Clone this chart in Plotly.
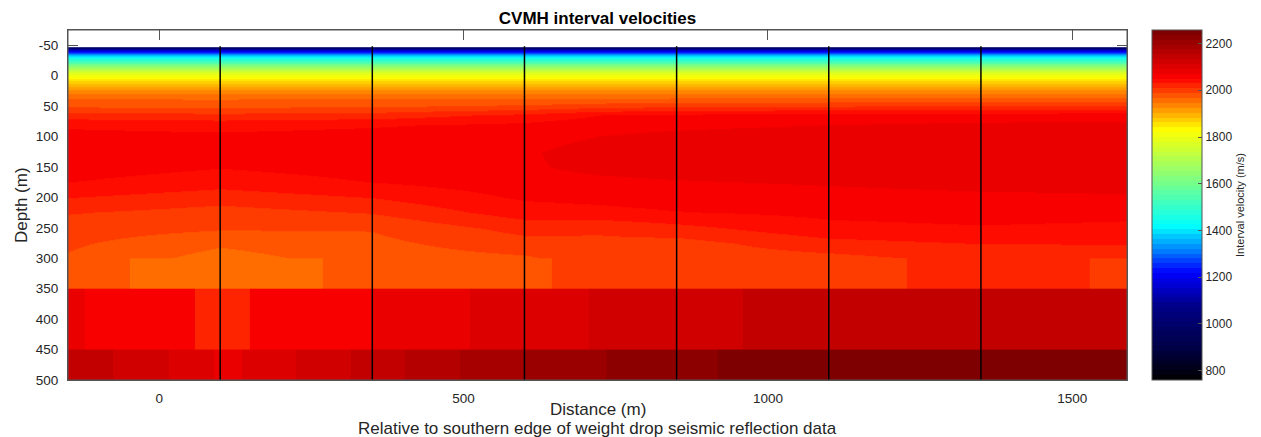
import numpy as np
import plotly.graph_objects as go

# ---------------- data ----------------
# smooth upper velocity field: nodes along the profile (m) and in depth (m)
distance_nodes = [-150, 100, 350, 600, 725, 850, 1100, 1350, 1590]

shallow_depths = [-45.5, -43, -39, -33, -25, -15, -5, 3, 12, 22, 35]
shallow_velocity = [1000, 1120, 1250, 1380, 1500, 1640, 1770, 1830, 1880, 1920, 1962]

deep_depths = [50, 65, 82, 100, 125, 150, 175, 200, 225, 250, 275, 300, 325]
deep_velocity = [
    [1984, 1983, 1985, 1992, 2000, 2005, 2008, 2010, 2012],
    [2018, 2015, 2018, 2035, 2050, 2055, 2058, 2060, 2062],
    [2047, 2043, 2048, 2055, 2064, 2067, 2071, 2075, 2076],
    [2056, 2054, 2057, 2062, 2071, 2075, 2080, 2083, 2084],
    [2064, 2058, 2063, 2068, 2080, 2084, 2088, 2090, 2090],
    [2060, 2051, 2059, 2068, 2076, 2080, 2085, 2088, 2088],
    [2050, 2038, 2050, 2062, 2066, 2069, 2073, 2078, 2080],
    [2030, 2018, 2030, 2053, 2056, 2060, 2063, 2066, 2068],
    [2010, 2000, 2010, 2040, 2044, 2049, 2055, 2058, 2056],
    [1998, 1990, 1989, 2016, 2012, 2022, 2044, 2048, 2045],
    [1991, 1970, 1982, 2000, 2004, 2000, 2022, 2030, 2030],
    [1985, 1958, 1977, 1984, 2000, 1996, 2001, 2016, 2018],
    [1980, 1950, 1974, 1980, 1998, 1994, 2000, 2014, 2016],
]

# blocky deeper layers: depth range, block edges along profile (m), velocities (m/s)
layer1_depth = [300, 350]
layer1_edges = [-150, -48, 268, 645, 1229, 1529, 1590]
layer1_velocity = [1977, 1956, 1977, 1998, 2019, 1998]

layer2_depth = [350, 450]
layer2_edges = [-150, -122, 59, 149, 350, 511, 705, 959, 1590]
layer2_velocity = [2081, 2060, 2019, 2060, 2081, 2102, 2123, 2144]

layer3_depth = [450, 500]
layer3_edges = [-150, -76, 15, 90, 135, 225, 315, 404, 494, 598, 736, 917, 1590]
layer3_velocity = [2144, 2123, 2102, 2081, 2102, 2123, 2144, 2164, 2185, 2206, 2227, 2248]

# CVMH profile locations (m) and their vertical extent
profile_distance = [100, 350, 600, 850, 1100, 1350]
profile_top = -48.5
profile_bottom = 500

x_ticks = [0, 500, 1000, 1500]
x_tick_labels = ["0", "500", "1000", "1500"]
y_ticks = [-50, 0, 50, 100, 150, 200, 250, 300, 350, 400, 450, 500]
y_tick_labels = ["-50", "0", "50", "100", "150", "200", "250", "300", "350",
                 "400", "450", "500"]
cbar_ticks = [800, 1000, 1200, 1400, 1600, 1800, 2000, 2200]
v_min, v_max = 760, 2258

# ---------------- colour map (jet-like, banded) ----------------
cmap_values = [760, 900, 1075, 1220, 1310, 1417, 1620, 1830, 2050, 2258]
cmap_rgb = [(0, 0, 0), (0, 0, 70), (0, 0, 135), (0, 0, 255), (0, 120, 255),
            (0, 255, 255), (128, 255, 128), (255, 255, 0), (255, 0, 0), (120, 0, 0)]
n_bands = 72
colorscale = []
for k in range(n_bands):
    c = v_min + (k + 0.5) * (v_max - v_min) / n_bands
    rgb = [int(round(np.interp(c, cmap_values, [p[i] for p in cmap_rgb]))) for i in range(3)]
    col = "rgb(%d,%d,%d)" % tuple(rgb)
    colorscale.append([k / n_bands, col])
    colorscale.append([(k + 1) / n_bands, col])

# ---------------- figure ----------------
FONT = "Liberation Sans, Arial, Helvetica, sans-serif"
TXT = "#262626"
AX = "#555555"

z_smooth = [[v] * len(distance_nodes) for v in shallow_velocity] + deep_velocity

fig = go.Figure()
fig.add_trace(go.Heatmap(
    x=distance_nodes, y=shallow_depths + deep_depths, z=z_smooth,
    zsmooth="best", coloraxis="coloraxis", hoverinfo="skip"))

# blocky layers; drawn slightly overlapping (and past the frame) to avoid seams
for depth, edges, vel in [(layer1_depth, layer1_edges, layer1_velocity),
                          (layer2_depth, layer2_edges, layer2_velocity),
                          (layer3_depth, layer3_edges, layer3_velocity)]:
    xe = [edges[0] - 15] + list(edges[1:-1]) + [edges[-1] + 15]
    ye = [depth[0], depth[1] + 3]
    fig.add_trace(go.Heatmap(x=xe, y=ye, z=[vel], zsmooth=False,
                             coloraxis="coloraxis", hoverinfo="skip"))

px_, py_ = [], []
for d in profile_distance:
    px_ += [d, d, None]
    py_ += [profile_top, profile_bottom, None]
fig.add_trace(go.Scatter(x=px_, y=py_, mode="lines",
                         line=dict(color="black", width=1.5),
                         showlegend=False, hoverinfo="skip"))

W, H = 1261, 437
L, R, T, B = 68, 134, 30, 57
pw, ph = W - L - R, H - T - B

axis_common = dict(showgrid=False, zeroline=False, ticks="inside", ticklen=10,
                   tickcolor=AX, tickwidth=1, showline=True, linecolor=AX,
                   linewidth=1, mirror="ticks", layer="below traces",
                   tickfont=dict(family=FONT, size=13.5, color=TXT))

fig.update_layout(
    width=W, height=H,
    margin=dict(l=L, r=R, t=T, b=B, pad=0),
    paper_bgcolor="white", plot_bgcolor="white",
    font=dict(family=FONT, color=TXT),
    showlegend=False,
    xaxis=dict(range=[-150, 1590], tickvals=x_ticks, ticktext=x_tick_labels,
               ticklabelstandoff=6, **axis_common),
    yaxis=dict(range=[500, -75], tickvals=y_ticks, ticktext=y_tick_labels,
               ticklabelstandoff=6, **axis_common),
    coloraxis=dict(
        cmin=v_min, cmax=v_max, colorscale=colorscale,
        colorbar=dict(
            x=(1152 - L) / pw, xanchor="left", xpad=0,
            y=0.5, yanchor="middle", len=1, lenmode="fraction", ypad=0,
            thickness=50, thicknessmode="pixels",
            outlinecolor=AX, outlinewidth=1,
            tickvals=cbar_ticks, ticks="inside", ticklen=4, tickcolor=AX,
            tickfont=dict(family=FONT, size=12, color=TXT),
            title=dict(text="Interval velocity (m/s)", side="right",
                       font=dict(family=FONT, size=11, color=TXT)),
        ),
    ),
    title=dict(text="<b>CVMH interval velocities</b>", x=0.5, xref="paper",
               y=1 - 18.3 / H, yref="container", yanchor="middle", xanchor="center",
               font=dict(family=FONT, size=17, color="black")),
    shapes=[dict(type="rect", xref="paper", yref="paper", x0=0, x1=1, y0=0, y1=1,
                 line=dict(color=AX, width=1), layer="above")],
    annotations=[
        dict(text="Depth (m)", xref="paper", yref="paper", x=(21 - L) / pw, y=0.5,
             textangle=-90, showarrow=False, xanchor="center", yanchor="middle",
             font=dict(family=FONT, size=17, color=TXT)),
        dict(text="Distance (m)", xref="paper", yref="paper", x=0.5, y=-(410 - 380) / ph,
             showarrow=False, xanchor="center", yanchor="middle",
             font=dict(family=FONT, size=17, color=TXT)),
        dict(text="Relative to southern edge of weight drop seismic reflection data",
             xref="paper", yref="paper", x=0.5, y=-(428 - 380) / ph,
             showarrow=False, xanchor="center", yanchor="middle",
             font=dict(family=FONT, size=17, color=TXT)),
    ],
)

fig.write_html("out.html")
